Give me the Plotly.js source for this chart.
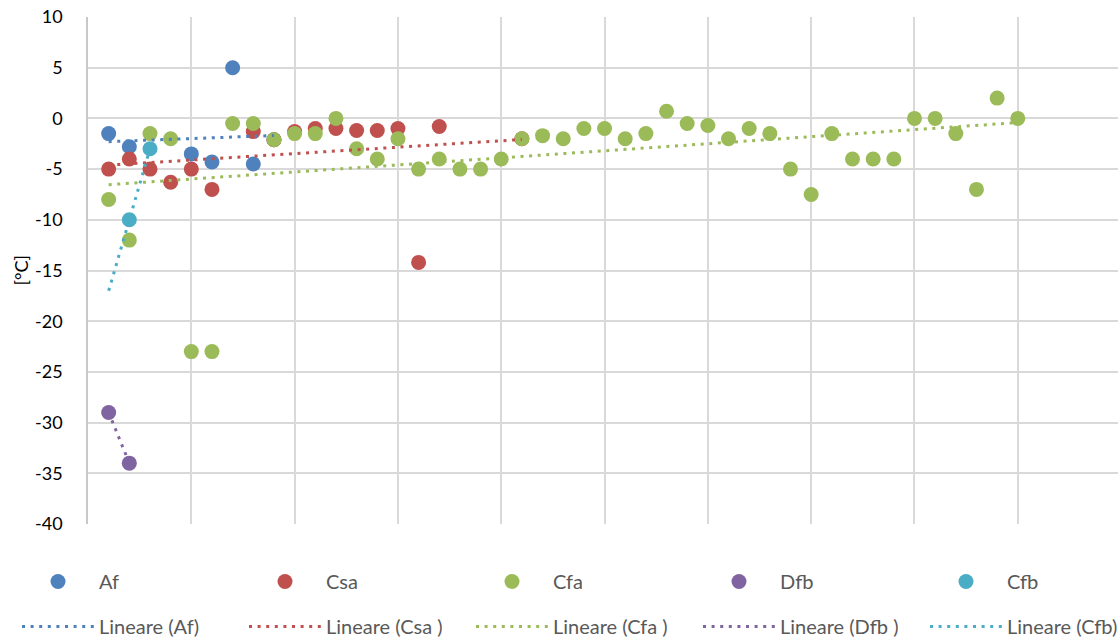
<!DOCTYPE html>
<html>
<head>
<meta charset="utf-8">
<script src="https://cdn.plot.ly/plotly-3.0.1.min.js"></script>
<style>html,body{margin:0;padding:0;background:#fff;}#chart{width:1118px;height:639px;}</style>
</head>
<body>
<div id="chart"></div>
<script>
// ---- data ----
const seriesNames = ['Af', 'Csa', 'Cfa', 'Dfb', 'Cfb'];
const trendNames = ['Lineare (Af)', 'Lineare (Csa )', 'Lineare (Cfa )', 'Lineare (Dfb )', 'Lineare (Cfb)'];

const xAf = [1, 2, 5, 6, 7, 8, 9];
const yAf = [-1.5, -2.8, -3.5, -4.3, 5, -4.5, -2.1];

const xCsa = [1, 2, 3, 4, 5, 6, 8, 9, 10, 11, 12, 13, 14, 15, 16, 17, 21];
const yCsa = [-5, -4, -5, -6.3, -5, -7, -1.3, -2.1, -1.3, -1, -1, -1.2, -1.2, -1, -14.2, -0.8, -2];

const xCfa = [1, 2, 3, 4, 5, 6, 7, 8, 9, 10, 11, 12, 13, 14, 15, 16, 17, 18, 19, 20, 21, 22, 23,
              24, 25, 26, 27, 28, 29, 30, 31, 32, 33, 34, 35, 36, 37, 38, 39, 40, 41, 42, 43, 44, 45];
const yCfa = [-8, -12, -1.5, -2, -23, -23, -0.5, -0.5, -2.1, -1.5, -1.5, 0, -3, -4, -2, -5, -4, -5, -5, -4, -2, -1.7, -2,
              -1, -1, -2, -1.5, 0.7, -0.5, -0.7, -2, -1, -1.5, -5, -7.5, -1.5, -4, -4, -4, 0, 0, -1.5, -7, 2, 0];

const xDfb = [1, 2];
const yDfb = [-29, -34];

const xCfb = [2, 3];
const yCfb = [-10, -3];

// trendline backward forecast (periods), as set in the original chart
const trendBackward = [0, 0, 0, 0, 1];

const yTicks = [10, 5, 0, -5, -10, -15, -20, -25, -30, -35, -40];
const yTitle = '[°C]';

// ---- styling ----
const colors = ['#4F81BD', '#C0504D', '#9BBB59', '#8064A2', '#4BACC6'];
const xs = [xAf, xCsa, xCfa, xDfb, xCfb];
const ys = [yAf, yCsa, yCfa, yDfb, yCfb];
const FONT = 'Lato, "Open Sans", sans-serif';

function linfit(x, y) {
  const n = x.length;
  const mx = x.reduce((a, b) => a + b, 0) / n;
  const my = y.reduce((a, b) => a + b, 0) / n;
  let sxy = 0, sxx = 0;
  for (let i = 0; i < n; i++) { sxy += (x[i] - mx) * (y[i] - my); sxx += (x[i] - mx) * (x[i] - mx); }
  const b = sxy / sxx;
  return { a: my - b * mx, b: b };
}

const legendIds = ['legend', 'legend2', 'legend3', 'legend4', 'legend5'];
const traces = [];
// marker traces
for (let i = 0; i < 5; i++) {
  traces.push({
    type: 'scatter', mode: 'markers', name: seriesNames[i],
    x: xs[i], y: ys[i],
    marker: { color: colors[i], size: 15, line: { width: 0 } },
    legend: legendIds[i], legendgroup: 'm' + i, hoverinfo: 'x+y+name'
  });
}
// trendlines (least squares of each series)
for (let i = 0; i < 5; i++) {
  const f = linfit(xs[i], ys[i]);
  const x0 = Math.min(...xs[i]) - trendBackward[i];
  const x1 = Math.max(...xs[i]);
  traces.push({
    type: 'scatter', mode: 'lines', name: trendNames[i],
    x: [x0, x1], y: [f.a + f.b * x0, f.a + f.b * x1],
    line: { color: colors[i], width: 3, dash: '3px,5.6px' },
    legend: legendIds[i], legendgroup: 't' + i, hoverinfo: 'skip'
  });
}

const colOrigin = [17, 244, 471, 698, 925];
const layout = {
  width: 1118, height: 639,
  margin: { l: 88, r: 0, t: 17, b: 115, autoexpand: false },
  paper_bgcolor: '#ffffff', plot_bgcolor: '#ffffff',
  font: { family: FONT, size: 18, color: '#595959' },
  showlegend: true,
  xaxis: {
    range: [0, 49.85], dtick: 5, tick0: 0, showticklabels: false,
    showgrid: true, gridcolor: '#d9d9d9', gridwidth: 1.5,
    zeroline: false, showline: false, ticks: ''
  },
  yaxis: {
    range: [-40, 10], tickvals: yTicks, ticktext: yTicks.map(String),
    showgrid: true, gridcolor: '#d9d9d9', gridwidth: 1.5,
    zeroline: false, showline: true, linecolor: '#c8c8c8', linewidth: 1.5,
    ticks: '', ticklabelstandoff: 20,
    tickfont: { family: FONT, size: 18, color: '#000000' }
  },
  annotations: [{
    text: yTitle, xref: 'paper', yref: 'paper', x: -68 / 1030, y: 0.5,
    xanchor: 'center', yanchor: 'middle', textangle: -90, showarrow: false,
    font: { family: FONT, size: 18, color: '#000000' }
  }],
  hovermode: 'closest'
};
const lg = {
  orientation: 'v', xref: 'container', yref: 'container', xanchor: 'left', yanchor: 'top',
  y: 1 - 562 / 639, bgcolor: 'rgba(0,0,0,0)', borderwidth: 0,
  font: { family: FONT, size: 20, color: '#595959' },
  itemwidth: 72, tracegroupgap: 16, traceorder: 'grouped', itemclick: false, itemdoubleclick: false
};
legendIds.forEach((id, i) => { layout[id] = Object.assign({}, lg, { x: colOrigin[i] / 1118 }); });

Plotly.newPlot('chart', traces, layout, { displayModeBar: false, responsive: false });
</script>
</body>
</html>
